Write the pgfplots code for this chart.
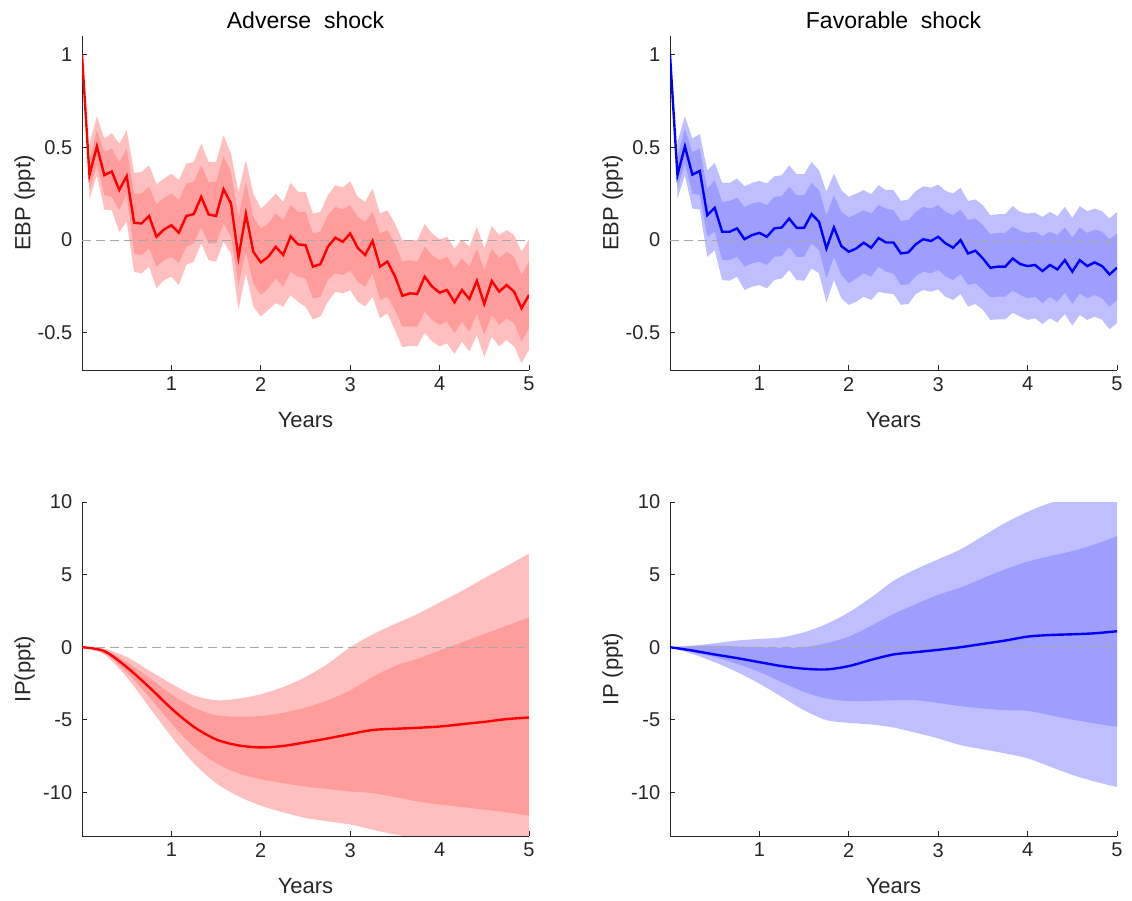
\documentclass[border=0pt]{standalone}
\usepackage{fontspec}
\setmainfont{Liberation Sans}
\usepackage{pgfplots}
\usepackage{pgfplotstable}
\pgfplotsset{compat=1.18}
\usepgfplotslibrary{fillbetween}

\definecolor{axgray}{HTML}{262626}
\definecolor{zerogray}{HTML}{A8A8A8}
\definecolor{redline}{HTML}{FF0000}
\definecolor{redout}{HTML}{FFBFBF}
\definecolor{redin}{HTML}{FF9C9C}
\definecolor{blueline}{HTML}{0000FF}
\definecolor{blueout}{HTML}{BFBFFF}
\definecolor{bluein}{HTML}{9E9EFF}

% EBP responses, monthly horizon; bands: 90% (lo90/hi90) and 68% (lo68/hi68)
\pgfplotstableread{
m  med    lo90   lo68   hi68   hi90
0  1.000  1.000  1.000  1.000  1.000
1  0.350  0.220  0.270  0.430  0.520
2  0.505  0.350  0.405  0.590  0.667
3  0.350  0.165  0.242  0.476  0.547
4  0.370  0.161  0.233  0.493  0.577
5  0.270  0.045  0.161  0.421  0.520
6  0.345  0.099  0.251  0.493  0.591
7  0.093 -0.170 -0.072  0.251  0.362
8  0.090 -0.179 -0.081  0.251  0.367
9  0.130 -0.143 -0.045  0.290  0.403
10 0.018 -0.260 -0.143  0.192  0.301
11 0.057 -0.215 -0.108  0.229  0.332
12 0.080 -0.197 -0.090  0.251  0.358
13 0.040 -0.242 -0.125  0.215  0.323
14 0.130 -0.134 -0.036  0.305  0.412
15 0.140 -0.116 -0.018  0.314  0.421
16 0.233 -0.018  0.072  0.403  0.520
17 0.138 -0.108 -0.018  0.314  0.421
18 0.130 -0.116 -0.018  0.314  0.421
19 0.274 -0.009  0.090  0.452  0.565
20 0.197 -0.072  0.018  0.367  0.466
21 -0.093 -0.376 -0.242 0.125  0.260
22 0.140 -0.179 -0.063  0.314  0.430
23 -0.063 -0.358 -0.233 0.125  0.251
24 -0.120 -0.412 -0.296 0.063  0.170
25 -0.090 -0.376 -0.260 0.090  0.206
26 -0.036 -0.340 -0.206 0.143  0.251
27 -0.080 -0.358 -0.251 0.108  0.206
28 0.020 -0.296 -0.170  0.188  0.308
29 -0.023 -0.332 -0.197 0.152  0.260
30 -0.027 -0.360 -0.206 0.152  0.260
31 -0.143 -0.427 -0.314 0.036  0.143
32 -0.130 -0.412 -0.305 0.045  0.152
33 -0.036 -0.332 -0.215 0.134  0.242
34 0.013 -0.278 -0.179  0.179  0.296
35 -0.009 -0.287 -0.188 0.165  0.283
36 0.036 -0.269 -0.165  0.188  0.317
37 -0.041 -0.332 -0.224 0.125  0.233
38 -0.081 -0.358 -0.251 0.099  0.206
39 -0.004 -0.305 -0.179 0.152  0.278
40 -0.143 -0.421 -0.323 0.036  0.143
41 -0.116 -0.394 -0.305 0.054  0.161
42 -0.194 -0.484 -0.376 -0.018 0.090
43 -0.300 -0.577 -0.466 -0.116 0.000
44 -0.287 -0.570 -0.466 -0.108 0.000
45 -0.290 -0.573 -0.466 -0.116 0.000
46 -0.197 -0.498 -0.385 -0.036 0.086
47 -0.251 -0.547 -0.430 -0.081 0.036
48 -0.283 -0.573 -0.457 -0.108 0.004
49 -0.269 -0.556 -0.439 -0.090 0.018
50 -0.335 -0.613 -0.502 -0.152 -0.045
51 -0.269 -0.547 -0.439 -0.099 0.004
52 -0.317 -0.600 -0.493 -0.143 -0.036
53 -0.219 -0.511 -0.394 -0.045 0.072
54 -0.344 -0.631 -0.511 -0.165 -0.045
55 -0.220 -0.520 -0.403 -0.045 0.075
56 -0.278 -0.573 -0.457 -0.099 0.027
57 -0.242 -0.538 -0.421 -0.063 0.054
58 -0.278 -0.573 -0.448 -0.090 0.027
59 -0.367 -0.663 -0.547 -0.188 -0.063
60 -0.296 -0.591 -0.475 -0.116 0.004
}\ebpadv

\pgfplotstableread{
m  med    lo90   lo68   hi68   hi90
0  1.000  1.000  1.000  1.000  1.000
1  0.350  0.224  0.278  0.448  0.529
2  0.505  0.349  0.412  0.600  0.667
3  0.353  0.170  0.251  0.475  0.547
4  0.373  0.165  0.242  0.493  0.573
5  0.134 -0.090  0.018  0.278  0.376
6  0.174 -0.054  0.045  0.323  0.416
7  0.045 -0.215 -0.108  0.206  0.308
8  0.045 -0.219 -0.108  0.211  0.308
9  0.063 -0.197 -0.090  0.229  0.332
10 0.005 -0.269 -0.143  0.179  0.290
11 0.027 -0.251 -0.125  0.197  0.308
12 0.039 -0.242 -0.116  0.206  0.319
13 0.018 -0.260 -0.134  0.188  0.305
14 0.063 -0.215 -0.090  0.233  0.344
15 0.068 -0.206 -0.086  0.237  0.349
16 0.116 -0.161 -0.036  0.287  0.403
17 0.066 -0.215 -0.090  0.242  0.355
18 0.066 -0.219 -0.090  0.242  0.355
19 0.140 -0.152 -0.018  0.308  0.421
20 0.099 -0.179 -0.054  0.269  0.376
21 -0.045 -0.337 -0.206 0.134  0.260
22 0.068 -0.215 -0.090  0.242  0.358
23 -0.032 -0.314 -0.188 0.152  0.269
24 -0.063 -0.349 -0.233 0.122  0.233
25 -0.045 -0.332 -0.206 0.140  0.251
26 -0.014 -0.305 -0.179 0.161  0.269
27 -0.041 -0.323 -0.197 0.143  0.247
28 0.011 -0.278 -0.143  0.188  0.296
29 -0.013 -0.287 -0.170 0.170  0.269
30 -0.013 -0.290 -0.180 0.161  0.269
31 -0.072 -0.349 -0.242 0.104  0.211
32 -0.066 -0.344 -0.238 0.108  0.219
33 -0.022 -0.290 -0.194 0.152  0.265
34 0.005 -0.269 -0.170  0.179  0.290
35 -0.005 -0.278 -0.179 0.170  0.283
36 0.018 -0.265 -0.161  0.188  0.299
37 -0.018 -0.305 -0.197 0.152  0.265
38 -0.041 -0.323 -0.215 0.134  0.251
39 0.000 -0.290 -0.183  0.165  0.283
40 -0.072 -0.358 -0.242 0.108  0.211
41 -0.057 -0.344 -0.233 0.116  0.219
42 -0.099 -0.376 -0.269 0.081  0.188
43 -0.149 -0.430 -0.308 0.032  0.134
44 -0.143 -0.427 -0.305 0.039  0.140
45 -0.143 -0.427 -0.305 0.039  0.140
46 -0.099 -0.391 -0.272 0.072  0.183
47 -0.129 -0.412 -0.296 0.050  0.152
48 -0.140 -0.430 -0.314 0.039  0.143
49 -0.134 -0.421 -0.305 0.045  0.147
50 -0.167 -0.452 -0.340 0.022  0.125
51 -0.134 -0.421 -0.305 0.045  0.152
52 -0.158 -0.444 -0.332 0.027  0.129
53 -0.108 -0.398 -0.283 0.068  0.179
54 -0.170 -0.461 -0.344 0.014  0.120
55 -0.108 -0.403 -0.287 0.068  0.183
56 -0.140 -0.430 -0.314 0.039  0.156
57 -0.120 -0.412 -0.296 0.057  0.170
58 -0.140 -0.430 -0.314 0.045  0.156
59 -0.185 -0.480 -0.358 0.004  0.116
60 -0.149 -0.448 -0.323 0.036  0.152
}\ebpfav

% IP responses, every third month
\pgfplotstableread{
m  med    lo90    lo68    hi68   hi90
0   0.00   0.00    0.00    0.00   0.00
3  -0.27  -0.50   -0.41   -0.18  -0.11
6  -1.37  -2.05   -1.71   -1.03  -0.68
9  -2.74  -4.11   -3.42   -2.10  -1.60
12 -4.22  -6.16   -5.25   -3.24  -2.51
15 -5.48  -7.99   -6.85   -4.16  -3.31
18 -6.35  -9.36   -7.99   -4.68  -3.65
21 -6.76  -10.27  -8.68   -4.79  -3.54
24 -6.90  -10.91  -9.09   -4.73  -3.24
27 -6.80  -11.37  -9.36   -4.52  -2.74
30 -6.55  -11.76  -9.59   -4.16  -2.05
33 -6.28  -11.99  -9.77   -3.65  -1.14
36 -5.98  -12.21  -9.93   -2.97   0.00
39 -5.70  -12.56  -10.05  -2.05   0.87
42 -5.62  -12.90  -10.32  -1.30   1.60
45 -5.55  -13.13  -10.62  -0.80   2.28
48 -5.46  -13.29  -10.84  -0.23   3.08
51 -5.30  -13.47  -11.00   0.34   3.88
54 -5.14  -13.58  -11.19   0.91   4.75
57 -4.95  -13.70  -11.37   1.48   5.59
60 -4.84  -13.81  -11.60   2.05   6.44
}\ipadv

\pgfplotstableread{
m  med    lo90   lo68   hi68   hi90
0   0.00   0.00   0.00   0.00   0.00
3  -0.23  -0.46  -0.34   0.07   0.11
6  -0.50  -1.03  -0.68   0.11   0.27
9  -0.75  -1.71  -1.14   0.05   0.46
12 -1.03  -2.51  -1.71   0.00   0.57
15 -1.30  -3.42  -2.40  -0.05   0.68
18 -1.48  -4.34  -3.08   0.00   1.03
21 -1.53  -5.02  -3.54   0.27   1.60
24 -1.30  -5.21  -3.70   0.73   2.40
27 -0.87  -5.32  -3.70   1.48   3.42
30 -0.50  -5.53  -3.65   2.28   4.57
33 -0.34  -5.89  -3.65   2.97   5.37
36 -0.18  -6.28  -3.84   3.61   6.05
39  0.00  -6.74  -4.06   4.11   6.74
42  0.23  -7.03  -4.22   4.75   7.65
45  0.46  -7.31  -4.34   5.37   8.56
48  0.73  -7.65  -4.38   5.89   9.32
51  0.84  -8.22  -4.68   6.28   9.93
54  0.89  -8.79  -4.98   6.62  10.27
57  0.96  -9.25  -5.25   7.08  10.60
60  1.10  -9.63  -5.48   7.65  10.96
}\ipfav

\pgfplotsset{
  irf/.style={
    scale only axis, width=223.5pt, height=167pt, anchor=south west,
    clip bounding box=upper bound,
    axis lines=left, axis line style={-, draw=axgray, line width=0.45pt},
    tick style={draw=axgray, line width=0.45pt},
    tick align=inside, major tick length=2.6pt,
    xmin=0, xmax=60, xtick={12,24,36,48,60}, xticklabels={1,2,3,4,5},
    tick label style={font=\fontsize{10}{12}\selectfont, text=axgray},
    yticklabel style={xshift=-1.4pt},
    label style={font=\fontsize{11}{13}\selectfont, text=axgray},
    xlabel={Years},
    xlabel style={at={(axis description cs:0.5,-0.15)}, anchor=center},
    ylabel style={at={(axis description cs:-0.128,0.5)}, anchor=center},
    title style={font=\fontsize{11.5}{13}\selectfont, text=black, yshift=-5.8pt},
  },
  ebp/.style={ymin=-0.7, ymax=1.1, ytick={-0.5,0,0.5,1},
    yticklabels={-0.5,0,0.5,1}, ylabel={EBP (ppt)}},
  ip/.style={ymin=-13, ymax=10, ytick={-10,-5,0,5,10},
    yticklabels={-10,-5,0,5,10}},
}

% #1 table, #2 outer colour, #3 inner colour, #4 extra options for the bands
\newcommand{\irfbands}[4]{%
  \addplot[draw=none, name path=hiB, #4] table[x=m, y=hi90] {#1};
  \addplot[draw=none, name path=loB, #4] table[x=m, y=lo90] {#1};
  \addplot[draw=none, name path=hiA, #4] table[x=m, y=hi68] {#1};
  \addplot[draw=none, name path=loA, #4] table[x=m, y=lo68] {#1};
  \addplot[fill=#2, draw=none] fill between[of=hiB and loB];
  \addplot[fill=#3, draw=none] fill between[of=hiA and loA];
  \addplot[zerogray, line width=0.5pt, dash pattern=on 4.5pt off 2.5pt] coordinates {(0,0) (60,0)};
}

\begin{document}
\begin{tikzpicture}

\begin{axis}[irf, ebp, at={(41pt,265.5pt)}, title={Adverse\ \ shock}]
\irfbands{\ebpadv}{redout}{redin}{skip coords between index={0}{1}}
\addplot[redline, line width=1.2pt] table[x=m, y=med] {\ebpadv};
\end{axis}

\begin{axis}[irf, ebp, at={(335pt,265.5pt)}, title={Favorable\ \ shock}]
\irfbands{\ebpfav}{blueout}{bluein}{skip coords between index={0}{1}}
\addplot[blueline, line width=1.2pt] table[x=m, y=med] {\ebpfav};
\end{axis}

\begin{axis}[irf, ip, at={(41pt,32.5pt)}, ylabel={IP(ppt)}]
\irfbands{\ipadv}{redout}{redin}{smooth}
\addplot[redline, line width=1.2pt, smooth] table[x=m, y=med] {\ipadv};
\end{axis}

\begin{axis}[irf, ip, at={(335pt,32.5pt)}, ylabel={IP (ppt)}]
\irfbands{\ipfav}{blueout}{bluein}{smooth}
\addplot[blueline, line width=1.2pt, smooth] table[x=m, y=med] {\ipfav};
\end{axis}

\path (0,0) rectangle (566pt,450.5pt);
\end{tikzpicture}
\end{document}
